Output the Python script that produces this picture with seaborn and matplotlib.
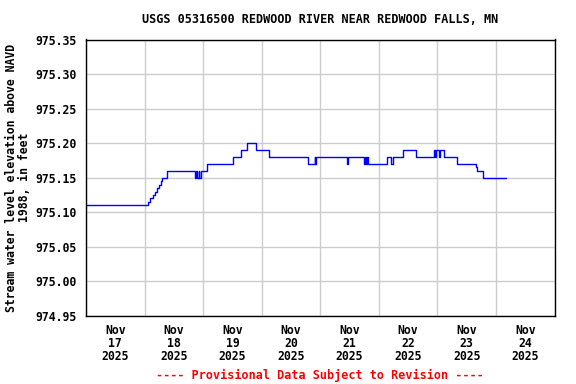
import numpy as np
import pandas as pd
import matplotlib
matplotlib.use("Agg")
import matplotlib.pyplot as plt
import matplotlib.dates as mdates
import seaborn as sns

TITLE = "USGS 05316500 REDWOOD RIVER NEAR REDWOOD FALLS, MN"
Y_LABEL = "Stream water level elevation above NAVD\n1988, in feet"
NOTE = "---- Provisional Data Subject to Revision ----"

# hours after 2025-11-17 00:00 where the gage value changes (step data)
hours = [
    0.0, 25.6, 26.4, 27.4, 28.2, 28.9, 29.8, 30.9, 31.2, 33.3,
    44.6, 45.2, 45.6, 46.3, 46.5, 47.3,
    49.4, 60.2, 63.6, 65.9, 69.6, 75.1,
    90.9, 93.7, 94.0, 94.4,
    106.9, 107.2,
    113.9, 114.3, 114.8, 115.2, 115.7,
    123.5, 124.8, 125.8,
    130.1, 135.1,
    142.6, 143.2, 143.6, 144.7, 145.0, 146.7,
    152.0, 159.7, 160.1, 162.6, 172.2,
]
values = [
    975.11, 975.115, 975.12, 975.125, 975.13, 975.135, 975.14, 975.145, 975.15, 975.16,
    975.15, 975.16, 975.15, 975.16, 975.15, 975.16,
    975.17, 975.18, 975.19, 975.20, 975.19, 975.18,
    975.17, 975.18, 975.17, 975.18,
    975.17, 975.18,
    975.17, 975.18, 975.17, 975.18, 975.17,
    975.18, 975.17, 975.18,
    975.19, 975.18,
    975.19, 975.18, 975.19, 975.18, 975.19, 975.18,
    975.17, 975.165, 975.16, 975.15, 975.15,
]

start = pd.Timestamp("2025-11-17")
df = pd.DataFrame({
    "time": start + pd.to_timedelta(hours, unit="h"),
    "elev": values,
})

sns.set_style("white")
plt.rcParams["font.family"] = ["DejaVu Sans Mono"]
plt.rcParams["font.weight"] = "bold"
for key in ["text.color", "axes.labelcolor", "xtick.color", "ytick.color"]:
    plt.rcParams[key] = "black"

fig = plt.figure(figsize=(5.76, 3.84), dpi=100)
ax = fig.add_axes([86 / 576, 68 / 384, 468.5 / 576, 276.5 / 384])

sns.lineplot(data=df, x="time", y="elev", ax=ax, color="#0000ff",
             linewidth=1.0, drawstyle="steps-post")

ax.set_xlim(start, start + pd.Timedelta(days=8))
ax.set_ylim(974.95, 975.35)
ax.set_yticks(np.arange(974.95, 975.351, 0.05))
ax.yaxis.set_major_formatter(matplotlib.ticker.FormatStrFormatter("%.2f"))

ax.xaxis.set_major_locator(mdates.DayLocator())
ax.xaxis.set_major_formatter(matplotlib.ticker.NullFormatter())
ax.xaxis.set_minor_locator(mdates.HourLocator(byhour=[12]))
ax.xaxis.set_minor_formatter(mdates.DateFormatter("%b\n%d\n%Y"))

ax.grid(True, which="major", color="#cccccc", linewidth=1.0)
ax.tick_params(axis="both", which="both", length=0)
ax.tick_params(axis="y", labelsize=8.3, pad=7)
ax.tick_params(axis="x", which="minor", labelsize=8.3, pad=6)
for lbl in ax.get_xticklabels(minor=True):
    lbl.set_fontweight("bold")
    lbl.set_linespacing(1.0)
for lbl in ax.get_yticklabels():
    lbl.set_fontweight("bold")

for s in ax.spines.values():
    s.set_color("black")
    s.set_linewidth(1.0)

ax.set_xlabel("")
ax.set_ylabel(Y_LABEL, fontsize=8.3, fontweight="bold", labelpad=3,
              linespacing=1.0)
ax.set_title(TITLE, fontsize=8.5, fontweight="bold", pad=12)

fig.text(320 / 576, 1 - 375 / 384, NOTE, color="red", fontsize=8.5,
         fontweight="bold", ha="center", va="center")

fig.savefig("out.png", dpi=100)
